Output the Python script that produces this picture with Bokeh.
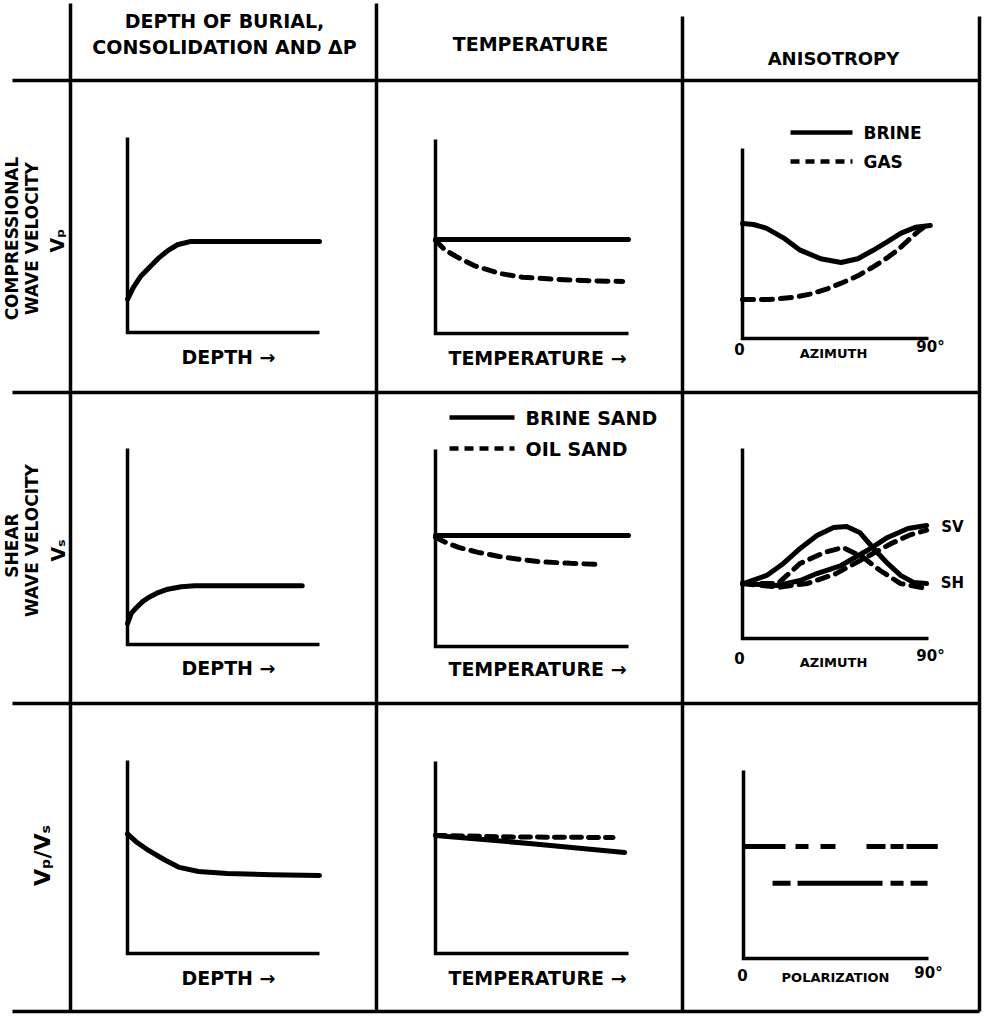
import numpy as np
from bokeh.plotting import figure
from bokeh.models import Range1d
from bokeh.core.properties import value
from bokeh.embed import file_html
from bokeh.resources import INLINE

# ---------------- data (normalised 0..1 in each small panel) ----------------
# Row 1: compressional wave velocity
vp_depth_x = [0, 0.03, 0.07, 0.11, 0.16, 0.21, 0.26, 0.33, 1.0]
vp_depth_y = [0.17, 0.23, 0.29, 0.33, 0.38, 0.42, 0.45, 0.467, 0.467]

vp_temp_brine_x = [0, 1.0]
vp_temp_brine_y = [0.485, 0.485]
vp_temp_oil_x = [0, 0.05, 0.12, 0.2, 0.33, 0.45, 0.61, 0.8, 0.97]
vp_temp_oil_y = [0.48, 0.43, 0.39, 0.35, 0.31, 0.29, 0.28, 0.272, 0.268]

vp_az_brine_x = [0, 0.06, 0.13, 0.22, 0.31, 0.42, 0.53, 0.62, 0.70, 0.78, 0.85, 0.93, 1.01]
vp_az_brine_y = [0.605, 0.6, 0.58, 0.53, 0.465, 0.42, 0.4, 0.42, 0.463, 0.51, 0.553, 0.585, 0.595]
vp_az_gas_x = [0, 0.14, 0.27, 0.37, 0.46, 0.54, 0.62, 0.70, 0.78, 0.84, 0.89, 0.94, 0.98]
vp_az_gas_y = [0.205, 0.205, 0.216, 0.235, 0.263, 0.295, 0.33, 0.375, 0.426, 0.47, 0.516, 0.56, 0.59]

# Row 2: shear wave velocity
vs_depth_x = [0, 0.02, 0.047, 0.08, 0.11, 0.16, 0.21, 0.28, 0.35, 0.91]
vs_depth_y = [0.107, 0.16, 0.189, 0.22, 0.24, 0.265, 0.282, 0.295, 0.3, 0.3]

vs_temp_brine_x = [0, 1.0]
vs_temp_brine_y = [0.563, 0.563]
vs_temp_oil_x = [0, 0.06, 0.12, 0.22, 0.33, 0.43, 0.53, 0.7, 0.86]
vs_temp_oil_y = [0.555, 0.525, 0.503, 0.478, 0.457, 0.443, 0.431, 0.422, 0.416]

sh_brine_x = [0.005, 0.13, 0.22, 0.31, 0.40, 0.49, 0.56, 0.63, 0.70, 0.78, 0.85, 0.92, 0.99]
sh_brine_y = [0.289, 0.332, 0.395, 0.474, 0.542, 0.584, 0.589, 0.558, 0.479, 0.395, 0.332, 0.295, 0.289]
sv_brine_x = [0, 0.19, 0.31, 0.40, 0.53, 0.67, 0.78, 0.89, 0.99]
sv_brine_y = [0.289, 0.279, 0.305, 0.342, 0.384, 0.463, 0.532, 0.579, 0.595]
sh_gas_x = [0, 0.19, 0.31, 0.44, 0.54, 0.65, 0.74, 0.85, 0.99]
sh_gas_y = [0.289, 0.289, 0.395, 0.453, 0.479, 0.426, 0.358, 0.289, 0.263]
sv_gas_x = [0, 0.2, 0.35, 0.5, 0.67, 0.8, 0.9, 0.99]
sv_gas_y = [0.289, 0.27, 0.29, 0.34, 0.43, 0.5, 0.545, 0.57]

# Row 3: Vp/Vs
ratio_depth_x = [0, 0.05, 0.11, 0.19, 0.27, 0.37, 0.52, 0.75, 1.0]
ratio_depth_y = [0.62, 0.575, 0.534, 0.487, 0.446, 0.425, 0.415, 0.408, 0.404]

ratio_temp_brine_x = [0, 0.5, 0.98]
ratio_temp_brine_y = [0.615, 0.572, 0.526]
ratio_temp_oil_x = [0, 0.4, 0.92]
ratio_temp_oil_y = [0.615, 0.607, 0.604]

ratio_pol_upper_x = [0, 1.05]
ratio_pol_upper_y = [0.596, 0.596]
ratio_pol_lower_x = [0.157, 0.995]
ratio_pol_lower_y = [0.40, 0.40]

col_titles = [["DEPTH OF BURIAL,", "CONSOLIDATION AND \u0394P"], ["TEMPERATURE"], ["ANISOTROPY"]]

# ---------------- layout ----------------
W, H = 984, 1015
X0, Y0 = 0, 0
FONT = value("DejaVu Sans")

p = figure(width=W, height=H, x_range=Range1d(X0, X0 + W), y_range=Range1d(Y0 + H, Y0),
           output_backend="svg", toolbar_location=None, min_border=0,
           x_axis_location=None, y_axis_location=None,
           background_fill_color="white", border_fill_color="white",
           outline_line_color=None)
p.grid.visible = False

xr, yr = {}, {}
def panel(name, xa, xb, yb, yt):
    kx = xb - xa
    xs = -(xa - X0) / kx
    xr[name] = Range1d(xs, xs + W / kx)
    ky = yb - yt
    ys = -((Y0 + H) - yb) / ky
    yr[name] = Range1d(ys, ys + H / ky)

panels = {
    "r1c1": (127, 319, 332, 137), "r1c2": (435, 628, 333, 139), "r1c3": (742, 928, 338, 148),
    "r2c1": (127, 319, 644, 448), "r2c2": (435, 628, 646, 449), "r2c3": (742, 928, 638, 448),
    "r3c1": (127, 319, 953, 760), "r3c2": (435, 628, 953, 761), "r3c3": (743, 928, 958, 770),
}
for k, v in panels.items():
    panel(k, *v)
p.extra_x_ranges = xr
p.extra_y_ranges = yr

INK = "black"
# table grid
gx = [70, 376, 682, 979]
gtop = [3, 3, 16, 16]
gy = [80, 392, 703, 1011]
p.segment(x0=gx, y0=gtop, x1=gx, y1=[1011] * 4, line_color=INK, line_width=3.5)
p.segment(x0=[12] * 4, y0=gy, x1=[979] * 4, y1=gy, line_color=INK, line_width=3.5)

# small axes
for k in panels:
    p.line([0, 0, 1], [1, 0, 0], x_range_name=k, y_range_name=k, line_color=INK,
           line_width=3.5, line_join="miter")

def solid(name, x, y):
    p.line(x, y, x_range_name=name, y_range_name=name, line_color=INK, line_width=5,
           line_cap="round", line_join="round")

def dashed(name, x, y, dash="11 8"):
    p.line(x, y, x_range_name=name, y_range_name=name, line_color=INK, line_width=5,
           line_dash=dash, line_cap="round")

solid("r1c1", vp_depth_x, vp_depth_y)
solid("r1c2", vp_temp_brine_x, vp_temp_brine_y)
dashed("r1c2", vp_temp_oil_x, vp_temp_oil_y)
solid("r1c3", vp_az_brine_x, vp_az_brine_y)
dashed("r1c3", vp_az_gas_x, vp_az_gas_y)

solid("r2c1", vs_depth_x, vs_depth_y)
solid("r2c2", vs_temp_brine_x, vs_temp_brine_y)
dashed("r2c2", vs_temp_oil_x, vs_temp_oil_y)
solid("r2c3", sh_brine_x, sh_brine_y)
solid("r2c3", sv_brine_x, sv_brine_y)
dashed("r2c3", sh_gas_x, sh_gas_y)
dashed("r2c3", sv_gas_x, sv_gas_y)

solid("r3c1", ratio_depth_x, ratio_depth_y)
solid("r3c2", ratio_temp_brine_x, ratio_temp_brine_y)
dashed("r3c2", ratio_temp_oil_x, ratio_temp_oil_y, "10 7")
p.line(ratio_pol_upper_x, ratio_pol_upper_y, x_range_name="r3c3", y_range_name="r3c3",
       line_color=INK, line_width=5, line_dash="42 10 13 12 15 31 19 5 13 3 40")
p.line(ratio_pol_lower_x, ratio_pol_lower_y, x_range_name="r3c3", y_range_name="r3c3",
       line_color=INK, line_width=5, line_dash="18 7 85 8 13 7 17")

# legends (samples)
p.segment(x0=[790, 449], y0=[132, 417], x1=[852, 514], y1=[132, 417], line_color=INK, line_width=4.5)
p.segment(x0=[790, 449], y0=[161, 448], x1=[852, 514], y1=[161, 448], line_color=INK,
          line_width=4.5, line_dash="9 6")

def txt(x, y, t, size, align="center", angle=0.0):
    p.text(x=x, y=y, text=t, text_font=FONT, text_font_style="bold",
           text_font_size=size, text_align=align, text_baseline="middle",
           text_color=INK, angle=angle)

# header
txt([224, 224], [20, 46], col_titles[0], "19px")
txt([530], [43], col_titles[1], "19px")
txt([833], [58], col_titles[2], "18px")

# legend text
txt([863, 863], [132, 161], ["BRINE", "GAS"], "17px", "left")
txt([525, 525], [417, 448], ["BRINE SAND", "OIL SAND"], "19px", "left")

# x labels
txt([228, 228, 228], [356, 667, 977], ["DEPTH \u2192"] * 3, "19px")
txt([537, 537, 537], [357, 668, 977], ["TEMPERATURE \u2192"] * 3, "19px")
txt([833, 833], [353, 662], ["AZIMUTH", "AZIMUTH"], "13px")
txt([835], [977], ["POLARIZATION"], "13px")
txt([739, 739, 742], [348, 657, 974], ["0", "0", "0"], "15px")
txt([930, 930, 928], [346, 655, 972], ["90\u00b0", "90\u00b0", "90\u00b0"], "15px")
txt([952, 952], [526, 582], ["SV", "SH"], "15px")

# row labels (rotated)
a = np.pi / 2
txt([11, 31], [238, 238], ["COMPRESSIONAL", "WAVE VELOCITY"], "17px", angle=a)
txt([56], [240], ["V\u209a"], "19px", angle=a)
txt([11, 31], [545, 540], ["SHEAR", "WAVE VELOCITY"], "17px", angle=a)
txt([57], [550], ["V\u209b"], "19px", angle=a)
txt([42], [855], ["V\u209a/V\u209b"], "22px", angle=a)

open("out.html", "w").write(file_html(p, INLINE))
